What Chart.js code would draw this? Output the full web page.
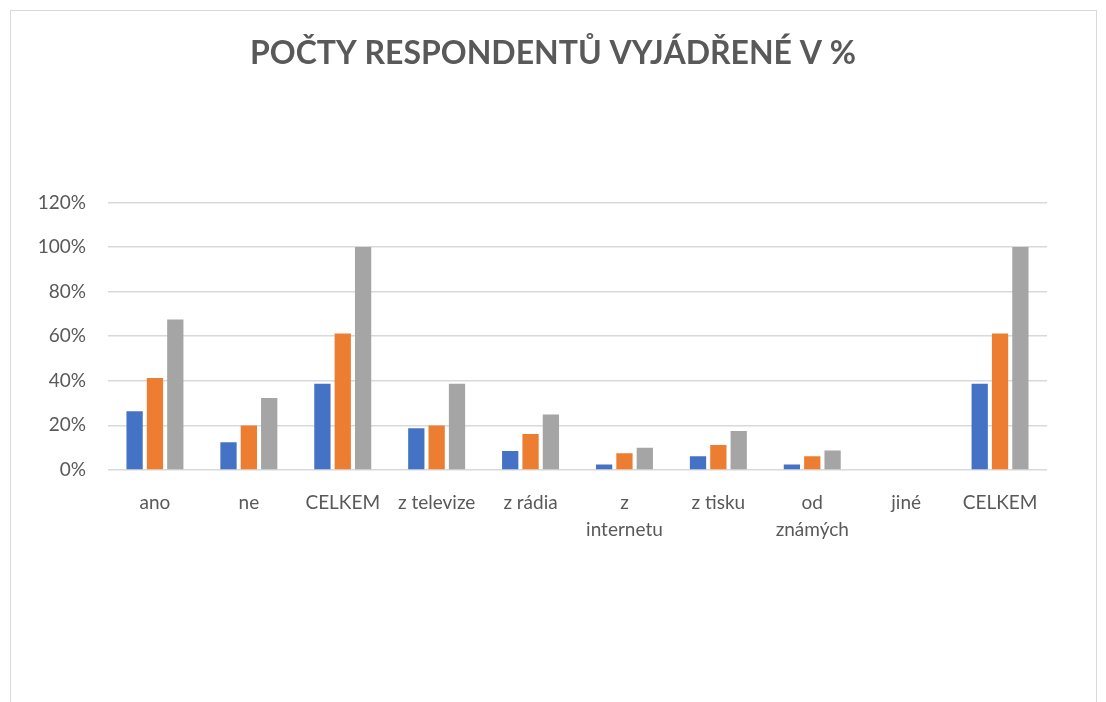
<!DOCTYPE html>
<html>
<head>
<meta charset="utf-8">
<script src="https://cdn.jsdelivr.net/npm/chart.js@4"></script>
<style>
  html, body { margin: 0; padding: 0; background: #fff; overflow: hidden; }
  #frame { position: absolute; left: 10px; top: 10px; width: 1085px; height: 720px; border: 1px solid #d9d9d9; }
  #wrap { position: absolute; left: 0; top: 0; width: 1106px; height: 702px; }
</style>
</head>
<body>
<div id="frame"></div>
<div id="wrap"><canvas id="myChart"></canvas></div>
<script>
const categories = ['ano', 'ne', 'CELKEM', 'z televize', 'z rádia', ['z', 'internetu'], 'z tisku', ['od', 'známých'], 'jiné', 'CELKEM'];
const series1 = [26.3, 12.4, 38.7, 18.7, 8.5, 2.4, 6.1, 2.4, 0, 38.7];
const series2 = [41.2, 19.9, 61.2, 19.9, 16.1, 7.5, 11.2, 6.1, 0, 61.2];
const series3 = [67.5, 32.2, 100, 38.7, 24.9, 9.9, 17.5, 8.7, 0, 100];
const yTicks = [0, 20, 40, 60, 80, 100, 120];

const textColor = '#595959';
const fontFamily = 'Lato, "Open Sans", sans-serif';

const data = {
    labels: categories,
    datasets: [
        { label: 'Řada 1', data: series1, backgroundColor: '#4472C4' },
        { label: 'Řada 2', data: series2, backgroundColor: '#ED7D31' },
        { label: 'Řada 3', data: series3, backgroundColor: '#A5A5A5' },
    ],
};

const config = {
    type: 'bar',
    data: data,
    options: {
        responsive: true,
        maintainAspectRatio: false,
        animation: false,
        layout: { padding: { left: 0, right: 0, top: 10, bottom: 147 } },
        datasets: { bar: { categoryPercentage: 0.65, barPercentage: 0.8 } },
        plugins: {
            legend: { display: false },
            tooltip: { enabled: false },
            title: {
                display: true,
                text: 'POČTY RESPONDENTŮ VYJÁDŘENÉ V %',
                color: textColor,
                font: { family: fontFamily, size: 32, weight: 'bold' },
                padding: { top: 24, bottom: 130 },
            },
        },
        scales: {
            x: {
                grid: { display: false },
                border: { display: false },
                ticks: {
                    color: textColor,
                    font: { family: fontFamily, size: 19, lineHeight: 1.45 },
                    padding: 11,
                    maxRotation: 0,
                    autoSkip: false,
                },
            },
            y: {
                min: 0,
                max: 120,
                afterBuildTicks: function (scale) {
                    scale.ticks = yTicks.map(v => ({ value: v }));
                },
                afterFit: function (scale) {
                    scale.width = 108;
                },
                grid: { color: '#d9d9d9', lineWidth: 1.5, drawTicks: false },
                border: { display: false },
                ticks: {
                    color: textColor,
                    font: { family: fontFamily, size: 19 },
                    padding: 22,
                    callback: function (v) { return v + '%'; },
                },
            },
            // empty right axis, only reserves the right margin so the title stays centred
            yRight: {
                position: 'right',
                min: 0,
                max: 120,
                afterFit: function (scale) {
                    scale.width = 59;
                },
                grid: { display: false },
                border: { display: false },
                ticks: { display: false },
            },
        },
    },
};

const ctx = document.getElementById('myChart').getContext('2d');
const myChart = new Chart(ctx, config);
</script>
</body>
</html>
